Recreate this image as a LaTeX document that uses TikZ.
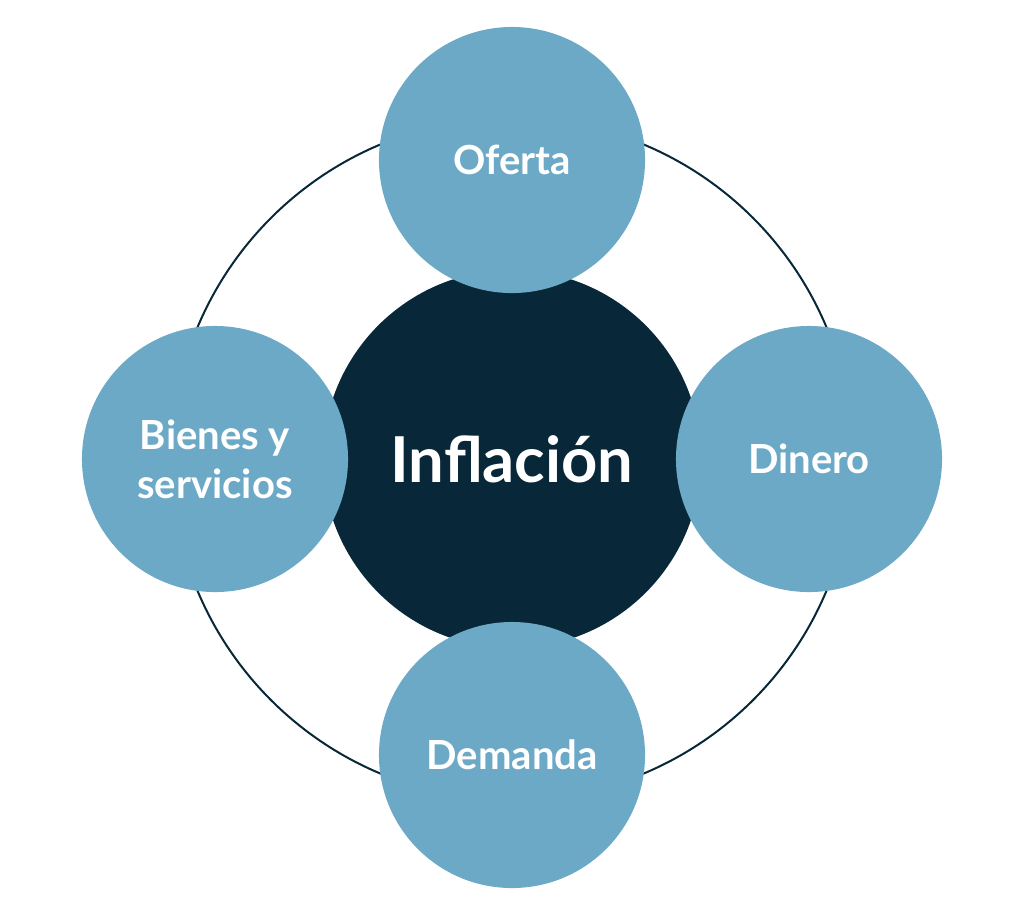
\documentclass[tikz,border=0pt]{standalone}
\usepackage{fontspec}
\setmainfont{Lato}
\usetikzlibrary{positioning}
\definecolor{oscuro}{HTML}{08283A}
\definecolor{celeste}{HTML}{6BA9C7}
\tikzset{
  factor/.style={circle,fill=celeste,minimum size=6.65cm,inner sep=0pt,text=white,align=center,font=\bfseries\fontsize{28.5}{35}\selectfont},
  centro/.style={circle,fill=oscuro,minimum size=9.45cm,inner sep=0pt,text=white,font=\bfseries\fontsize{45}{50}\selectfont}
}
\begin{document}
\begin{tikzpicture}[x=0.025cm,y=-0.025cm]
\useasboundingbox (0,0) rectangle (1024,917);
\draw[oscuro,line width=0.05cm] (512,459) circle [radius=8.52cm];
\path (512,459) node(inflacion) [centro]{Inflación};
\path (512,160) node(oferta) [factor]{Oferta};
\path (809,459) node(dinero) [factor]{Dinero};
\path (512,755) node(demanda) [factor]{Demanda};
\path (215,459) node(bienes) [factor]{Bienes y\\servicios};
\end{tikzpicture}
\end{document}
